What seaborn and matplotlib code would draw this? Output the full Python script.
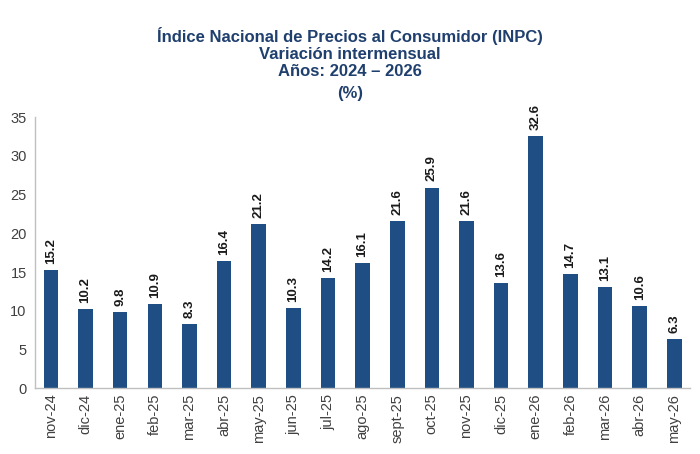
import pandas as pd
import matplotlib.pyplot as plt
import seaborn as sns

# Data
months = ["nov-24", "dic-24", "ene-25", "feb-25", "mar-25", "abr-25", "may-25",
          "jun-25", "jul-25", "ago-25", "sept-25", "oct-25", "nov-25", "dic-25",
          "ene-26", "feb-26", "mar-26", "abr-26", "may-26"]
values = [15.2, 10.2, 9.8, 10.9, 8.3, 16.4, 21.2, 10.3, 14.2, 16.1, 21.6, 25.9,
          21.6, 13.6, 32.6, 14.7, 13.1, 10.6, 6.3]

df = pd.DataFrame({"mes": months, "var": values})

sns.set_style("white")
plt.rcParams['font.family'] = ['Liberation Sans', 'DejaVu Sans']

fig = plt.figure(figsize=(7, 4.54), dpi=100)
ax = fig.add_axes([0.05, 0.145, 0.936, 0.597])

sns.barplot(data=df, x="mes", y="var", color="#1F4E85", width=0.42, ax=ax,
            saturation=1, linewidth=0)

for i, v in enumerate(df["var"]):
    ax.text(i, v + 0.8, f"{v:.1f}", rotation=90, ha="center", va="bottom",
            fontsize=9.5, fontweight="bold", color="#1a1a1a")

ax.set_ylim(0, 35)
ax.set_yticks(range(0, 36, 5))
ax.set_xlim(-0.46, len(months) - 0.54)
ax.set_xlabel("")
ax.set_ylabel("")
ax.tick_params(axis="x", rotation=90, labelsize=10.5, colors="#404040", length=0, pad=4)
ax.tick_params(axis="y", labelsize=10.5, colors="#404040", length=0, pad=6)

sns.despine(ax=ax)
for s in ["left", "bottom"]:
    ax.spines[s].set_color("#BFBFBF")
    ax.spines[s].set_linewidth(1)

title_kw = dict(ha="center", fontsize=12, fontweight="bold", color="#1F3F6E")
fig.text(0.5, 0.94, "Índice Nacional de Precios al Consumidor (INPC)\nVariación intermensual\nAños: 2024 – 2026",
         va="top", linespacing=1.15, **title_kw)
fig.text(0.5, 0.795, "(%)", va="center", **title_kw)

fig.savefig("out.png", dpi=100)
